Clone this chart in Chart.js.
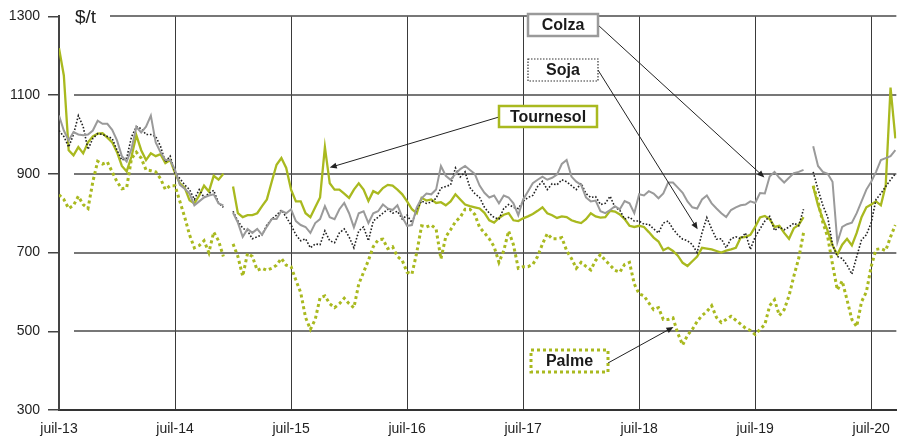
<!DOCTYPE html>
<html>
<head>
<meta charset="utf-8">
<script src="https://cdn.jsdelivr.net/npm/chart.js@4.4.1/dist/chart.umd.min.js"></script>
<style>
  html, body { margin: 0; padding: 0; background: #fff; }
  #wrap { width: 901px; height: 437px; }
</style>
</head>
<body>
<div id="wrap"><canvas id="chart" width="901" height="437"></canvas></div>
<script>
// half-month steps starting juil-13, prices in $/t
const tickLabels = ["juil-13", "juil-14", "juil-15", "juil-16", "juil-17", "juil-18", "juil-19", "juil-20"];
const yTicks = [300, 500, 700, 900, 1100, 1300];

const tournesol = [
  1219,1150,960,947,968,952,980,995,1002,1003,
  992,980,955,920,906,944,998,960,935,952,
  945,950,927,935,902,876,865,833,825,845,
  870,855,895,885,900,null,868,800,790,795,
  795,800,818,835,880,923,940,915,860,830,
  830,800,790,815,840,968,876,860,860,850,
  839,860,876,860,831,856,850,864,872,870,
  860,848,830,810,800,839,832,835,826,828,
  820,830,848,835,822,818,815,812,801,782,
  776,788,796,800,782,780,787,792,798,806,
  815,800,795,788,792,790,782,778,775,785,
  800,792,789,790,806,804,797,785,768,765,
  768,765,752,738,728,706,712,704,692,674,
  666,678,690,712,710,708,704,700,705,708,
  712,738,740,745,765,789,793,785,765,768,
  750,735,762,770,790,null,868,820,785,755,
  718,695,720,735,718,750,790,815,822,830,
  820,870,1119,990
];
const colza = [
  1048,1010,985,1006,1000,998,1000,1010,1035,1027,
  1027,1012,985,945,931,964,1019,1005,1020,1048,
  980,955,935,935,910,872,862,850,820,830,
  840,845,848,825,820,null,801,776,740,760,
  750,760,745,766,785,785,806,800,810,780,
  770,765,750,775,785,818,790,785,810,826,
  800,764,800,805,775,800,805,822,812,808,
  820,790,768,770,815,838,850,848,860,920,
  895,885,900,912,920,910,900,870,852,840,
  845,825,845,840,825,795,835,855,876,885,
  893,885,890,898,925,935,893,880,872,840,
  830,832,805,800,808,818,810,831,825,800,
  848,845,856,850,838,850,878,878,865,852,
  830,815,812,835,845,825,812,800,790,808,
  815,820,822,830,826,851,850,893,905,890,
  878,890,902,905,910,null,970,920,905,900,
  880,726,765,772,776,800,830,860,880,905,
  935,940,945,960
];
const soja = [
  1010,995,968,1000,1048,1020,962,990,1002,1000,
  995,990,960,935,940,994,1020,1015,1000,1000,
  995,970,930,945,902,888,872,860,835,860,
  840,850,858,826,815,null,805,780,762,755,
  735,740,745,770,785,795,808,790,770,745,
  730,735,712,722,720,755,730,725,750,760,
  740,712,755,765,730,780,790,800,810,800,
  805,785,795,776,810,831,825,828,838,864,
  868,872,915,892,905,865,850,840,815,800,
  789,785,812,822,815,812,830,840,845,868,
  881,860,875,872,885,880,870,860,876,850,
  840,842,822,825,843,815,808,785,790,780,
  780,772,772,760,750,775,780,760,745,734,
  730,720,700,750,789,760,734,735,712,735,
  740,735,750,708,740,760,780,792,756,765,
  758,765,775,768,810,null,905,860,820,790,
  720,690,685,668,645,690,732,745,776,835,
  850,868,885,900
];
const palme = [
  847,835,812,820,843,822,812,880,932,925,
  930,905,880,862,865,939,955,940,910,908,
  905,888,860,870,870,830,790,745,712,718,
  730,700,752,730,690,null,722,690,640,698,
  690,655,660,655,660,668,685,668,664,630,
  598,535,505,530,585,590,570,560,570,584,
  570,560,620,650,680,715,732,734,710,715,
  690,680,650,645,700,768,765,770,760,684,
  740,758,778,790,810,810,797,764,750,735,
  715,675,705,755,720,660,664,664,670,690,
  722,748,735,735,738,705,685,660,675,665,
  656,680,695,680,668,655,650,670,675,620,
  595,590,572,555,560,530,530,534,495,465,
  490,505,525,540,550,565,535,522,530,538,
  528,518,508,502,492,505,517,565,580,540,
  555,590,640,685,750,null,870,830,776,740,
  670,605,628,580,530,512,575,600,665,708,
  710,705,740,770
];

const GREEN = "#a9b91f";
const GREY = "#9a9a9a";
const STEPS_PER_YEAR = 24;
const tickPos = tickLabels.map((_, k) => k * STEPS_PER_YEAR);

function pts(arr) {
  return arr.map((v, i) => ({ x: i, y: v }));
}

// callouts: box in pixels, arrow tip in data units
const callouts = [
  { text: "Colza", box: [528, 14, 70, 22], stroke: GREY, width: 2.5, dash: [], from: [598, 25], tip: [145.9, 891] },
  { text: "Soja", box: [528, 59, 70, 22], stroke: "#333", width: 1.2, dash: [1.5, 1.5], from: [598, 70], tip: [132.1, 759] },
  { text: "Tournesol", box: [499, 106, 98, 21], stroke: GREEN, width: 2.5, dash: [], from: [499, 117], tip: [56.0, 916] },
  { text: "Palme", box: [531, 350, 77, 22], stroke: GREEN, width: 3, dash: [3, 3], from: [608, 363], tip: [127.1, 511] }
];

function arrow(ctx, x0, y0, x1, y1) {
  const a = Math.atan2(y1 - y0, x1 - x0);
  const len = 7, hw = 3;
  ctx.beginPath();
  ctx.moveTo(x0, y0);
  ctx.lineTo(x1 - Math.cos(a) * len * 0.8, y1 - Math.sin(a) * len * 0.8);
  ctx.stroke();
  ctx.beginPath();
  ctx.moveTo(x1, y1);
  ctx.lineTo(x1 - Math.cos(a) * len + Math.sin(a) * hw, y1 - Math.sin(a) * len - Math.cos(a) * hw);
  ctx.lineTo(x1 - Math.cos(a) * len - Math.sin(a) * hw, y1 - Math.sin(a) * len + Math.cos(a) * hw);
  ctx.closePath();
  ctx.fill();
}

const frame = {
  id: "frame",
  beforeDatasetsDraw(chart) {
    const { ctx, chartArea, scales } = chart;
    ctx.save();
    ctx.strokeStyle = "#4a4a4a";
    ctx.lineWidth = 1.5;
    yTicks.forEach(v => {
      if (v === yTicks[0]) return;
      const y = Math.round(scales.y.getPixelForValue(v));
      const x0 = v === yTicks[yTicks.length - 1] ? 110 : 74;
      ctx.beginPath();
      ctx.moveTo(x0, y);
      ctx.lineTo(chartArea.right, y);
      ctx.stroke();
    });
    ctx.fillStyle = "#222";
    ctx.font = "19px 'Liberation Sans', Arial, sans-serif";
    ctx.textBaseline = "middle";
    ctx.fillText("$/t", 75, 18);
    ctx.restore();
  },
  afterDatasetsDraw(chart) {
    const { ctx, scales } = chart;
    ctx.save();
    callouts.forEach(c => {
      const tx = scales.x.getPixelForValue(c.tip[0]);
      const ty = scales.y.getPixelForValue(c.tip[1]);
      ctx.strokeStyle = "#222";
      ctx.fillStyle = "#222";
      ctx.lineWidth = 1;
      ctx.setLineDash([]);
      arrow(ctx, c.from[0], c.from[1], tx, ty);

      const [bx, by, bw, bh] = c.box;
      ctx.fillStyle = "#fff";
      ctx.fillRect(bx, by, bw, bh);
      ctx.strokeStyle = c.stroke;
      ctx.lineWidth = c.width;
      ctx.setLineDash(c.dash);
      ctx.strokeRect(bx, by, bw, bh);
      ctx.setLineDash([]);
      ctx.fillStyle = "#1a1a1a";
      ctx.font = "bold 16px 'Liberation Sans', Arial, sans-serif";
      ctx.textAlign = "center";
      ctx.textBaseline = "middle";
      ctx.fillText(c.text, bx + bw / 2, by + bh / 2 + 1);
    });
    ctx.restore();
  }
};

const tickFont = { family: "'Liberation Sans', Arial, sans-serif", size: 14 };

new Chart(document.getElementById("chart").getContext("2d"), {
  type: "line",
  data: {
    datasets: [
      { label: "Colza", data: pts(colza), borderColor: GREY, borderWidth: 2 },
      { label: "Soja", data: pts(soja), borderColor: "#222", borderWidth: 1.6, borderDash: [1.6, 1.8] },
      { label: "Tournesol", data: pts(tournesol), borderColor: GREEN, borderWidth: 2.3 },
      { label: "Palme", data: pts(palme), borderColor: GREEN, borderWidth: 3, borderDash: [3, 3] }
    ]
  },
  options: {
    responsive: false,
    animation: false,
    devicePixelRatio: 1,
    layout: { padding: { top: 11, right: 4, left: 0, bottom: 0 } },
    plugins: { legend: { display: false }, tooltip: { enabled: false } },
    elements: { point: { radius: 0 }, line: { tension: 0, fill: false } },
    scales: {
      x: {
        type: "linear",
        min: 0,
        max: 173.2,
        afterBuildTicks: s => { s.ticks = tickPos.map(v => ({ value: v })); },
        afterFit: s => { s.height = 27; },
        ticks: {
          autoSkip: false,
          maxRotation: 0,
          padding: 11,
          color: "#222",
          font: tickFont,
          callback: (v, i) => tickLabels[i]
        },
        grid: { color: "#3a3a3a", lineWidth: 1, drawTicks: false },
        border: { color: "#333", width: 2 }
      },
      y: {
        min: 300,
        max: 1300,
        afterBuildTicks: s => { s.ticks = yTicks.map(v => ({ value: v })); },
        afterFit: s => { s.width = 59; },
        ticks: { padding: 8, color: "#222", font: tickFont, callback: v => String(v) },
        grid: { drawOnChartArea: false, tickLength: 11, color: "#444", lineWidth: 1.5 },
        border: { color: "#444", width: 2 }
      }
    }
  },
  plugins: [frame]
});
</script>
</body>
</html>
